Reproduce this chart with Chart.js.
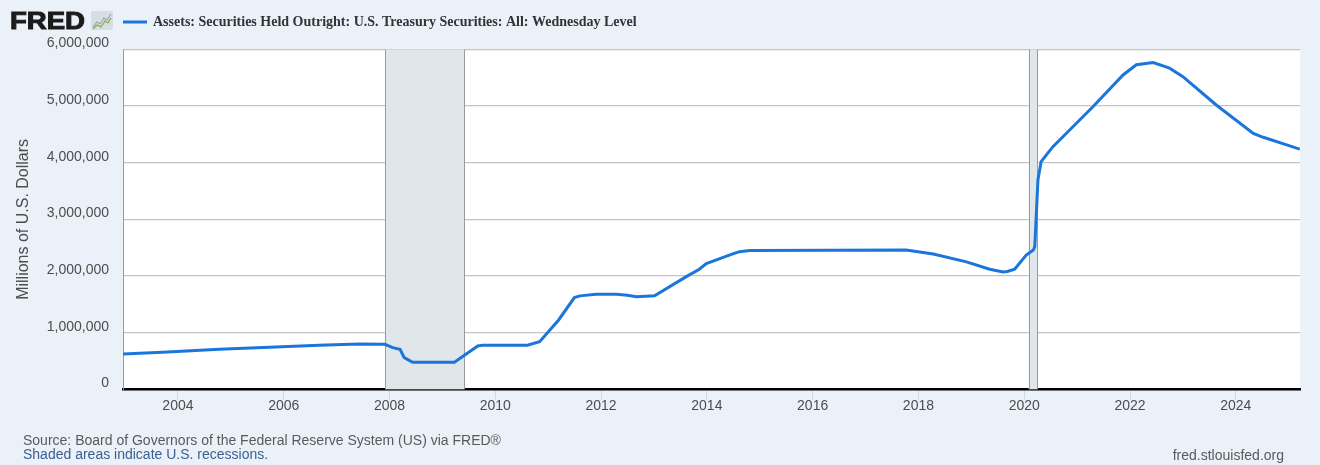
<!DOCTYPE html>
<html>
<head>
<meta charset="utf-8">
<script src="https://cdn.jsdelivr.net/npm/chart.js@4.4.1/dist/chart.umd.min.js"></script>
<style>
  html, body { margin: 0; padding: 0; background: #eaf1f9; }
  #wrap { width: 1320px; height: 465px; position: relative; }
  canvas { display: block; }
</style>
</head>
<body>
<div id="wrap"><canvas id="fred" width="1320" height="465"></canvas></div>
<script>
// ---------------------------------------------- DATA ---------------------------------------------- //

const seriesName = "Assets: Securities Held Outright: U.S. Treasury Securities: All: Wednesday Level";

// Wednesday level, millions of U.S. dollars
const dates = [
  "2002-12-18", "2003-09-17", "2004-10-13", "2005-09-24", "2006-09-01", "2007-06-06",
  "2007-12-01", "2008-01-23", "2008-03-14", "2008-04-12", "2008-06-09", "2009-03-25",
  "2009-09-02", "2009-10-05", "2010-08-11", "2010-11-03", "2011-03-14", "2011-07-01",
  "2011-08-08", "2011-11-28", "2012-04-16", "2012-07-01", "2012-09-02", "2013-01-05",
  "2013-08-12", "2013-11-10", "2013-12-28", "2014-06-29", "2014-08-15", "2014-10-23",
  "2017-10-08", "2018-04-13", "2018-11-28", "2019-05-08", "2019-08-08", "2019-09-06",
  "2019-10-27", "2020-01-15", "2020-03-04", "2020-03-14", "2020-04-05", "2020-04-27",
  "2020-07-16", "2021-04-20", "2021-11-14", "2022-02-14", "2022-06-10", "2022-10-01",
  "2023-01-01", "2023-08-19", "2024-05-01", "2024-07-09", "2025-03-19"
];
const values = [
  623000, 653000, 706000, 742000, 777000, 800000,
  795000, 735000, 706000, 560000, 477000, 477000,
  765000, 777000, 777000, 840000, 1224000, 1620000,
  1650000, 1680000, 1680000, 1660000, 1635000, 1650000,
  1990000, 2120000, 2220000, 2390000, 2430000, 2450000,
  2460000, 2390000, 2250000, 2120000, 2070000, 2080000,
  2120000, 2370000, 2460000, 2520000, 3700000, 4020000,
  4280000, 4990000, 5550000, 5730000, 5770000, 5670000,
  5520000, 5020000, 4520000, 4450000, 4240000
];

const recessions = [["2007-12-01", "2009-06-01"], ["2020-02-01", "2020-04-01"]];
const yearTicks  = [2004, 2006, 2008, 2010, 2012, 2014, 2016, 2018, 2020, 2022, 2024];
const yTicks     = [0, 1000000, 2000000, 3000000, 4000000, 5000000, 6000000];
const xStart = "2002-12-18", xEnd = "2025-03-20";

// --------------------------------------------- HELPERS --------------------------------------------- //

function toYear(s) {
  const d = new Date(s + "T00:00:00Z"), y = d.getUTCFullYear();
  const a = Date.UTC(y, 0, 1), b = Date.UTC(y + 1, 0, 1);
  return y + (d - a) / (b - a);
}

const lineColor = "#1a76db";

// white plot area + recession bars
const plotBack = {
  id: "plotBack",
  beforeDatasetsDraw(chart) {
    const {ctx, chartArea: a, scales: {x}} = chart;
    ctx.save();
    recessions.forEach(([s, e]) => {
      const x0 = x.getPixelForValue(toYear(s)), x1 = x.getPixelForValue(toYear(e));
      ctx.fillStyle = "#e1e6eb";
      ctx.fillRect(x0, a.top, x1 - x0, a.bottom - a.top);
      ctx.strokeStyle = "#9a9a9a";
      ctx.lineWidth = 1;
      ctx.beginPath();
      ctx.moveTo(Math.round(x0) + 0.5, a.top); ctx.lineTo(Math.round(x0) + 0.5, a.bottom);
      ctx.moveTo(Math.round(x1) + 0.5, a.top); ctx.lineTo(Math.round(x1) + 0.5, a.bottom);
      ctx.stroke();
    });
    ctx.restore();
  },
  beforeDraw(chart) {
    const {ctx, chartArea: a} = chart;
    ctx.save();
    ctx.fillStyle = "#eaf1f9";
    ctx.fillRect(0, 0, chart.width, chart.height);
    ctx.fillStyle = "#ffffff";
    ctx.fillRect(a.left, a.top, a.right - a.left, a.bottom - a.top);
    ctx.restore();
  }
};

// logo, legend and footer notes
const frame = {
  id: "frame",
  afterDraw(chart) {
    const ctx = chart.ctx;
    ctx.save();
    // FRED logo
    ctx.font = "bold 24px 'Liberation Sans', Arial, sans-serif";
    ctx.fillStyle = "#1b1b1b";
    ctx.textBaseline = "alphabetic";
    const w = ctx.measureText("FRED").width;
    ctx.translate(10, 28.5);
    ctx.scale(75 / w, 1);
    ctx.strokeStyle = "#1b1b1b";
    ctx.lineWidth = 1;
    ctx.fillText("FRED", 0, 0);
    ctx.strokeText("FRED", 0, 0);
    ctx.restore();

    ctx.save();
    ctx.fillStyle = "#d8dde2";
    ctx.beginPath();
    ctx.roundRect(91, 11, 22, 19, 2);
    ctx.fill();
    ctx.lineWidth = 1.2;
    ctx.strokeStyle = "#9aa4ad";
    ctx.beginPath();
    ctx.moveTo(93, 27); ctx.lineTo(97, 22); ctx.lineTo(100, 24); ctx.lineTo(104, 18); ctx.lineTo(107, 20); ctx.lineTo(111, 14);
    ctx.stroke();
    ctx.strokeStyle = "#7fae4e";
    ctx.beginPath();
    ctx.moveTo(93, 29); ctx.lineTo(97, 25); ctx.lineTo(101, 27); ctx.lineTo(105, 21); ctx.lineTo(108, 23); ctx.lineTo(111, 18);
    ctx.stroke();

    // legend
    ctx.strokeStyle = lineColor;
    ctx.lineWidth = 3;
    ctx.beginPath();
    ctx.moveTo(123, 22); ctx.lineTo(147, 22);
    ctx.stroke();
    ctx.font = "bold 14px 'Liberation Serif', 'Times New Roman', serif";
    ctx.fillStyle = "#333333";
    ctx.textBaseline = "middle";
    ctx.fillText(seriesName, 153, 22);

    // footer
    ctx.font = "14px 'Liberation Sans', Arial, sans-serif";
    ctx.fillStyle = "#5a5a5a";
    ctx.fillText("Source: Board of Governors of the Federal Reserve System (US) via FRED\u00AE", 23, 441);
    ctx.fillStyle = "#3b5f91";
    ctx.fillText("Shaded areas indicate U.S. recessions.", 23, 455);
    ctx.fillStyle = "#5a5a5a";
    ctx.textAlign = "right";
    ctx.fillText("fred.stlouisfed.org", 1284, 456);
    ctx.restore();
  }
};

// ---------------------------------------------- CHART ---------------------------------------------- //

Chart.defaults.font.family = "'Liberation Sans', Arial, sans-serif";
Chart.defaults.color = "#4d4d4d";

new Chart(document.getElementById("fred"), {
  type: "line",
  data: {
    datasets: [{
      label: seriesName,
      data: dates.map((d, i) => ({x: toYear(d), y: values[i]})),
      borderColor: lineColor,
      borderWidth: 3,
      pointRadius: 0,
      tension: 0,
      fill: false
    }]
  },
  options: {
    responsive: false,
    animation: false,
    devicePixelRatio: 1,
    layout: {padding: {top: 49.5, right: 20, bottom: 45.7, left: 0}},
    plugins: {legend: {display: false}, tooltip: {enabled: false}},
    scales: {
      x: {
        type: "linear",
        min: toYear(xStart),
        max: toYear(xEnd),
        afterBuildTicks: s => { s.ticks = yearTicks.map(v => ({value: v})); },
        afterFit: s => { s.height = 30; },
        ticks: {font: {size: 14}, color: "#4d4d4d", padding: -2, maxRotation: 0, autoSkip: false, callback: v => String(v)},
        grid: {drawOnChartArea: false, drawTicks: true, tickLength: 10, color: "#ccd6eb"},
        border: {display: true, color: "#000000", width: 2.5}
      },
      y: {
        min: 0,
        max: 6000000,
        afterBuildTicks: s => { s.ticks = yTicks.map(v => ({value: v})); },
        afterFit: s => { s.width = 123; },
        ticks: {font: {size: 14}, color: "#4d4d4d", padding: 14, labelOffset: -6,
                callback: v => v.toLocaleString("en-US")},
        grid: {drawTicks: false, color: "#c4c4c4", lineWidth: 1.3},
        border: {display: true, color: "#9a9a9a", width: 1},
        title: {display: true, text: "Millions of U.S. Dollars", font: {size: 16}, color: "#4d4d4d",
                padding: {top: 14, bottom: 0}}
      }
    }
  },
  plugins: [plotBack, frame]
});
</script>
</body>
</html>
